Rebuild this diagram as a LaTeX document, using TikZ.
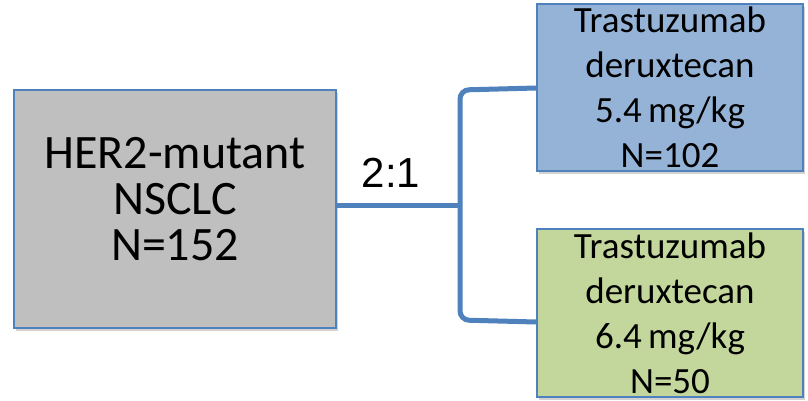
\documentclass[tikz,border=0pt]{standalone}
\usepackage{fontspec}
\setmainfont{Carlito}
\newfontfamily\arialfont{Liberation Sans}
\usetikzlibrary{shadows}
\definecolor{graybox}{HTML}{BFBFBF}
\definecolor{bluebox}{HTML}{95B3D7}
\definecolor{greenbox}{HTML}{C3D69B}
\definecolor{edgeblue}{HTML}{4F81BD}
\tikzset{
  armbox/.style={draw=edgeblue, line width=1.5pt, inner sep=0pt, minimum width=266pt, minimum height=167pt,
    align=center, font=\fontsize{37pt}{45pt}\selectfont,
    drop shadow={shadow xshift=2pt, shadow yshift=-3pt, opacity=0.35}},
  conn/.style={draw=edgeblue, line width=5pt, rounded corners=9pt},
}
\begin{document}
\begin{tikzpicture}[x=1pt,y=-1pt]
\useasboundingbox[fill=white] (0,0) rectangle (808,400);
\node[draw=edgeblue, line width=1.5pt, fill=graybox, minimum width=322pt, minimum height=238pt, inner sep=0pt,
  drop shadow={shadow xshift=2pt, shadow yshift=-3pt, opacity=0.35}] (pop) at (175,209) {};
\node[align=center, font=\fontsize{48pt}{46pt}\selectfont, inner sep=0pt] (poplabel) at (175,199) {HER2-mutant\\NSCLC\\N=152};
\node[armbox, fill=bluebox] (arm1) at (670,87.5) {Trastuzumab\\deruxtecan\\5.4\,mg/kg\\N=102};
\node[armbox, fill=greenbox, minimum height=168pt] (arm2) at (670,313) {Trastuzumab\\deruxtecan\\6.4\,mg/kg\\N=50};
\coordinate (split) at (460,205);
\draw[conn] (pop.east |- split) -- (split);
\draw[conn] (arm1.west |- 0,88) -- (460,90) -- (460,320) -- (arm2.west |- 0,322);
\node[font=\arialfont\fontsize{42pt}{44pt}\selectfont, anchor=base, inner sep=0pt] (ratio) at (391,187) {2:1};
\end{tikzpicture}
\end{document}
